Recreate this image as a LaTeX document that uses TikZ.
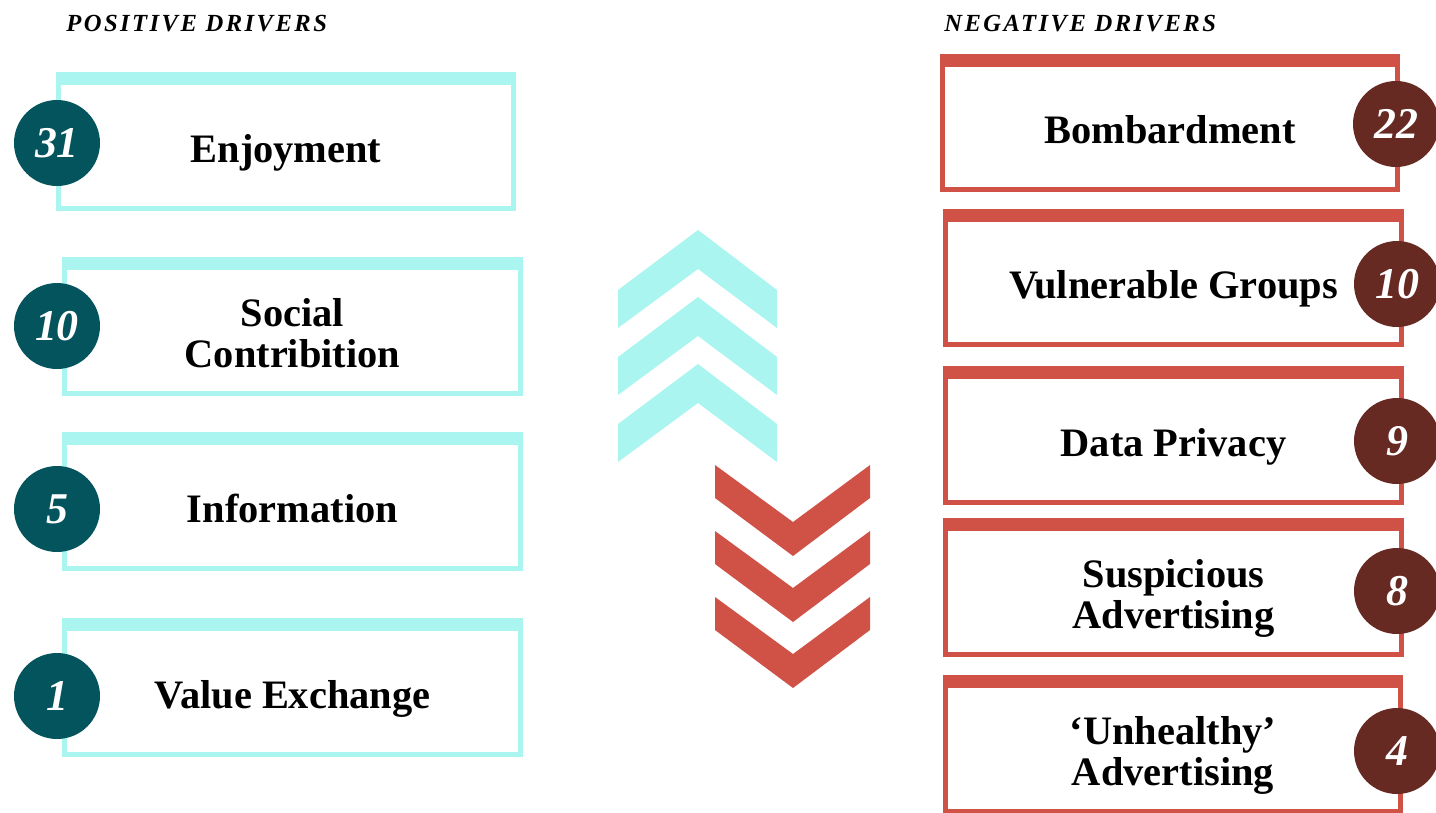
\documentclass[tikz,border=0pt]{standalone}
\usepackage{fontspec}
\setmainfont{Liberation Serif}
\newfontfamily\driverhead[LetterSpace=10]{Liberation Serif}
\usetikzlibrary{positioning}
\definecolor{poscyan}{RGB}{171,245,241}
\definecolor{posteal}{RGB}{3,84,92}
\definecolor{negred}{RGB}{208,81,70}
\definecolor{negbrown}{RGB}{102,42,35}

\begin{document}
\begin{tikzpicture}[x=0.02cm, y=-0.02cm,
drvbox/.style={draw, line width=0.1cm, fill=white, minimum width=9.12cm, minimum height=2.68cm,
               inner sep=0pt, align=center, font=\fontsize{23}{23}\selectfont\bfseries,
               text height=0.82cm, text depth=0pt},
twoline/.style={text height=1.62cm},
posbox/.style={drvbox, draw=poscyan},
negbox/.style={drvbox, draw=negred},
drvnum/.style={circle, inner sep=0pt, minimum size=1.72cm, text=white,
               font=\fontsize{25}{25}\selectfont\bfseries\itshape},
posnum/.style={drvnum, fill=posteal},
negnum/.style={drvnum, fill=negbrown},
drvtitle/.style={anchor=base west, inner sep=0pt, font=\fontsize{14}{14}\driverhead\bfseries\itshape},
]

	\useasboundingbox (0,0) rectangle (1436,812);

	\node[drvtitle] (pos-title) at (66,31) {POSITIVE DRIVERS};
	\node[drvtitle] (neg-title) at (944,31) {NEGATIVE DRIVERS};

	% positive side
	\node[posbox] (enjoy) at (286,141.5) {Enjoyment};
	\node[posbox, twoline] (social) at (292.5,326.5) {Social\\Contribition};
	\node[posbox] (info) at (292.5,501.5) {Information};
	\node[posbox] (value) at (292.5,687.5) {Value Exchange};

	\fill[poscyan] (enjoy.north west) rectangle ([yshift=-0.26cm]enjoy.north east);
	\fill[poscyan] (social.north west) rectangle ([yshift=-0.26cm]social.north east);
	\fill[poscyan] (info.north west) rectangle ([yshift=-0.26cm]info.north east);
	\fill[poscyan] (value.north west) rectangle ([yshift=-0.26cm]value.north east);

	\node[posnum] (enjoy-num) at (57,143) {31};
	\node[posnum] (social-num) at (57,326) {10};
	\node[posnum] (info-num) at (57,509) {5};
	\node[posnum] (value-num) at (57,696) {1};

	% negative side
	\node[negbox] (bomb) at (1170,123) {Bombardment};
	\node[negbox] (vulner) at (1173.5,278) {Vulnerable Groups};
	\node[negbox] (privacy) at (1173.5,435.5) {Data Privacy};
	\node[negbox, twoline] (suspic) at (1173.5,587.5) {Suspicious\\Advertising};
	\node[negbox, twoline] (unhealthy) at (1173,744.5) {`Unhealthy'\\Advertising};

	\fill[negred] (bomb.north west) rectangle ([yshift=-0.26cm]bomb.north east);
	\fill[negred] (vulner.north west) rectangle ([yshift=-0.26cm]vulner.north east);
	\fill[negred] (privacy.north west) rectangle ([yshift=-0.26cm]privacy.north east);
	\fill[negred] (suspic.north west) rectangle ([yshift=-0.26cm]suspic.north east);
	\fill[negred] (unhealthy.north west) rectangle ([yshift=-0.26cm]unhealthy.north east);

	\node[negnum] (bomb-num) at (1396,124) {22};
	\node[negnum] (vulner-num) at (1397,284) {10};
	\node[negnum] (privacy-num) at (1397,441) {9};
	\node[negnum] (suspic-num) at (1397,591) {8};
	\node[negnum] (unhealthy-num) at (1397,751) {4};

	% chevrons
	\foreach \dy in {0,67,134}
		\fill[poscyan] (698,230+\dy) -- (777,290+\dy) -- (777,328+\dy) -- (698,269+\dy)
		               -- (618,328+\dy) -- (618,290+\dy) -- cycle; % up
	\foreach \dy in {0,66,132}
		\fill[negred] (715,465+\dy) -- (793,522+\dy) -- (870,465+\dy) -- (870,498+\dy)
		              -- (793,556+\dy) -- (715,498+\dy) -- cycle; % down

\end{tikzpicture}
\end{document}
